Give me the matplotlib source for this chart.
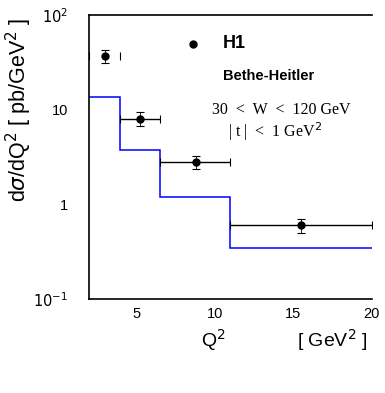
import matplotlib
matplotlib.use("Agg")
import matplotlib.pyplot as plt
import numpy as np

# Q^2 bins and Bethe-Heitler prediction
bin_edges = [2, 4, 6.5, 11, 20]
bh_values = [13.6, 3.75, 1.2, 0.35]

# H1 data points
q2_points = [3.0, 5.25, 8.8, 15.5]
xsec = [37.0, 8.0, 2.8, 0.6]
xsec_err = [0.15, 0.17, 0.16, 0.17]  # relative

plt.rcParams["font.family"] = ["Liberation Sans", "DejaVu Sans"]

fig = plt.figure(figsize=(3.85, 3.93), dpi=100)
ax = fig.add_axes([0.231, 0.239, 0.735, 0.723])

ax.stairs(bh_values, bin_edges, color="blue", linewidth=1.1, baseline=None)

q2 = np.array(q2_points)
y = np.array(xsec)
xlo = q2 - np.array(bin_edges[:-1])
xhi = np.array(bin_edges[1:]) - q2
yerr = y * np.array(xsec_err)

# horizontal bin-width bars (first one not drawn in the original)
ax.errorbar(q2[1:], y[1:], xerr=[xlo[1:], xhi[1:]], fmt="none", ecolor="black",
            elinewidth=1.0, capsize=3, capthick=0.8)
ax.errorbar(q2[:1], y[:1], xerr=[xlo[:1], xhi[:1]], fmt="none", ecolor="black",
            elinewidth=0, capsize=3, capthick=0.8)
ax.errorbar(q2, y, yerr=yerr, fmt="o", color="black", ms=5, ecolor="black",
            elinewidth=0.6, capsize=3, capthick=0.8)

ax.set_yscale("log")
ax.set_xlim(2, 20)
ax.set_ylim(0.1, 100)
ax.set_xticks([5, 10, 15, 20])
ax.set_xticklabels(["5", "10", "15", "20"])
ax.set_yticks([0.1, 1, 10, 100])
ax.set_yticklabels([r"$10^{-1}$", "1", "10", r"$10^{2}$"])
ax.minorticks_off()
ax.tick_params(axis="both", length=0, labelsize=10.5)
ax.tick_params(axis="y", pad=15)
ax.tick_params(axis="x", pad=6)
ax.spines["right"].set_visible(False)
for s in ["left", "top", "bottom"]:
    ax.spines[s].set_linewidth(1.2)

ax.set_ylabel(r"d$\sigma$/dQ$^2$ [ pb/GeV$^2$ ]", fontsize=15.5)
ax.yaxis.set_label_coords(-0.195, 0.665)
fig.text(0.553, 0.135, r"Q$^2$", fontsize=14, ha="center", va="center")
fig.text(0.862, 0.135, r"[ GeV$^2$ ]", fontsize=14, ha="center", va="center")

# legend-like annotations
ax.plot([8.6], [49.4], "o", color="black", ms=5, clip_on=False)
ax.text(10.5, 49.4, "H1", fontsize=13, fontweight="bold", va="center")
ax.text(10.5, 22.7, "Bethe-Heitler", fontsize=10.5, fontweight="bold", va="center")
ax.text(9.8, 9.9, "30  <  W  <  120 GeV", fontsize=11.5, family="Liberation Serif",
        va="center")
ax.text(10.85, 5.8, r"| t |  <  1 GeV$^2$", fontsize=11.5, family="Liberation Serif",
        va="center")

fig.savefig("out.png", dpi=100)
